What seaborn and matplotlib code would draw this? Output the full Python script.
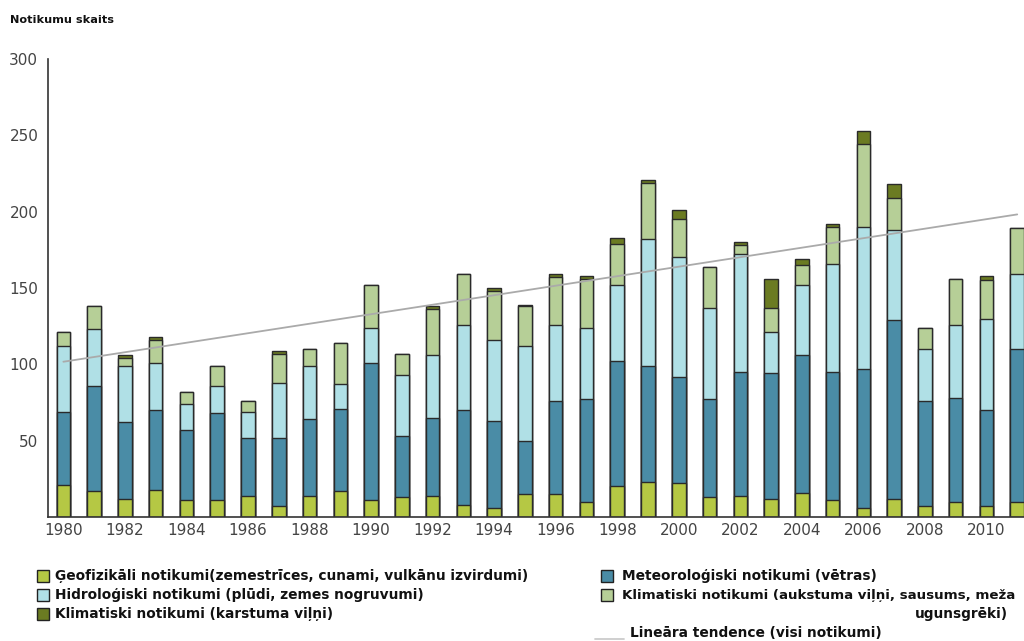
import numpy as np
import pandas as pd
import matplotlib
matplotlib.use("Agg")
import matplotlib.pyplot as plt
from matplotlib.patches import Rectangle
from matplotlib.lines import Line2D
import seaborn as sns

years = list(range(1980, 2012))
geo = [21, 17, 12, 18, 11, 11, 14, 7, 14, 17, 11, 13, 14, 8, 6, 15, 15, 10, 20, 23, 22, 13, 14, 12, 16, 11, 6, 12, 7, 10, 7, 10]
met = [48, 69, 50, 52, 46, 57, 38, 45, 50, 54, 90, 40, 51, 62, 57, 35, 61, 67, 82, 76, 70, 64, 81, 82, 90, 84, 91, 117, 69, 68, 63, 100]
hyd = [43, 37, 37, 31, 17, 18, 17, 36, 35, 16, 23, 40, 41, 56, 53, 62, 50, 47, 50, 83, 78, 60, 77, 27, 46, 71, 93, 59, 34, 48, 60, 49]
clim = [9, 15, 5, 15, 8, 13, 7, 19, 11, 27, 28, 14, 30, 33, 32, 26, 31, 32, 27, 37, 25, 27, 6, 16, 13, 24, 54, 21, 14, 30, 25, 30]
heat = [0, 0, 2, 2, 0, 0, 0, 2, 0, 0, 0, 0, 2, 0, 2, 1, 2, 2, 4, 2, 6, 0, 2, 19, 4, 2, 9, 9, 0, 0, 3, 0]
trend_years = [1980, 2011]
trend_values = [101.7, 198.2]

series_names = [
    "Ģeofizikāli notikumi(zemestrīces, cunami, vulkānu izvirdumi)",
    "Meteoroloģiski notikumi (vētras)",
    "Hidroloģiski notikumi (plūdi, zemes nogruvumi)",
    "Klimatiski notikumi (aukstuma viļņi, sausums, meža\nugunsgrēki)",
    "Klimatiski notikumi (karstuma viļņi)",
]
colors = ["#b5c844", "#4a8ca6", "#b0e0e6", "#b6cf97", "#6b7b22"]

sns.set_style("white")
plt.rcParams["font.family"] = ["DejaVu Sans"]

W, H = 1024, 641
fig = plt.figure(figsize=(W / 100, H / 100), dpi=100)
ax = fig.add_axes([48 / W, (H - 517) / H, (W - 48) / W, (517 - 59) / H])

df = pd.DataFrame({"year": [str(y) for y in years], "geo": geo, "met": met,
                   "hyd": hyd, "clim": clim, "heat": heat})
layers = ["geo", "met", "hyd", "clim", "heat"]
cum = df[layers].cumsum(axis=1)

# draw cumulative bars from top layer to bottom layer
for key, col in reversed(list(zip(layers, colors))):
    sns.barplot(x=df["year"], y=cum[key], color=col, width=0.44,
                edgecolor="#2a2a2a", linewidth=1.0, saturation=1, ax=ax, zorder=2)

# trend line
pos = [years.index(y) for y in trend_years]
ax.plot(pos, trend_values, color="#aaaaaa", lw=1.3, zorder=3)

ax.set_xlim(-0.5, 31.22)
ax.set_ylim(0, 300)
ax.set_xlabel("")
ax.set_ylabel("")
ax.set_yticks(range(50, 301, 50))
ax.tick_params(axis="y", which="major", length=5, width=1, color="#333333",
               labelsize=11, labelcolor="#444444", pad=2)
ax.set_xticks(np.arange(-0.5, 31.5, 1))
ax.set_xticklabels([])
ax.tick_params(axis="x", which="major", length=5, width=1, color="#333333", direction="out")
ax.set_xticks(range(0, 32, 2), minor=True)
ax.set_xticklabels([str(y) for y in years[::2]], minor=True)
ax.tick_params(axis="x", which="minor", length=0, labelsize=11, labelcolor="#444444", pad=4)
for s in ["top", "right"]:
    ax.spines[s].set_visible(False)
for s in ["left", "bottom"]:
    ax.spines[s].set_color("#333333")
    ax.spines[s].set_linewidth(1.2)

fig.text(10 / W, 1 - 20 / H, "Notikumu skaits", fontsize=8.1, fontweight="bold",
         va="center", ha="left", color="#111111")

# legend (manual)
def px(x, y):
    return x / W, 1 - y / H

FS = 9.9
sw = 12
legend_items = [
    (0, 37, 576), (2, 37, 595), (4, 37, 614),
    (1, 601, 576), (3, 601, 595),
]
for idx, x0, yc in legend_items:
    fx, fy = px(x0, yc + sw / 2)
    fig.add_artist(Rectangle((fx, fy), sw / W, sw / H, transform=fig.transFigure,
                             facecolor=colors[idx], edgecolor="#222222", lw=1.0))
    label = series_names[idx]
    if idx == 3:
        first, second = label.split("\n")
        tx, ty = px(x0 + 21, yc)
        fig.text(tx, ty, first, fontsize=9.6, fontweight="bold", va="center", ha="left", color="#111111")
        tx, ty = px(1008, yc + 19)
        fig.text(tx, ty, second, fontsize=FS, fontweight="bold", va="center", ha="right", color="#111111")
    else:
        tx, ty = px(x0 + 18 if x0 < 100 else x0 + 21, yc)
        fig.text(tx, ty, label, fontsize=FS, fontweight="bold", va="center", ha="left", color="#111111")

lx0, ly = px(595, 639)
lx1, _ = px(624, 639)
fig.add_artist(Line2D([lx0, lx1], [ly, ly], transform=fig.transFigure, color="#cccccc", lw=1.3))
tx, ty = px(630, 633)
fig.text(tx, ty, "Lineāra tendence (visi notikumi)", fontsize=FS, fontweight="bold",
         va="center", ha="left", color="#111111")

fig.savefig("out.png", dpi=100)
